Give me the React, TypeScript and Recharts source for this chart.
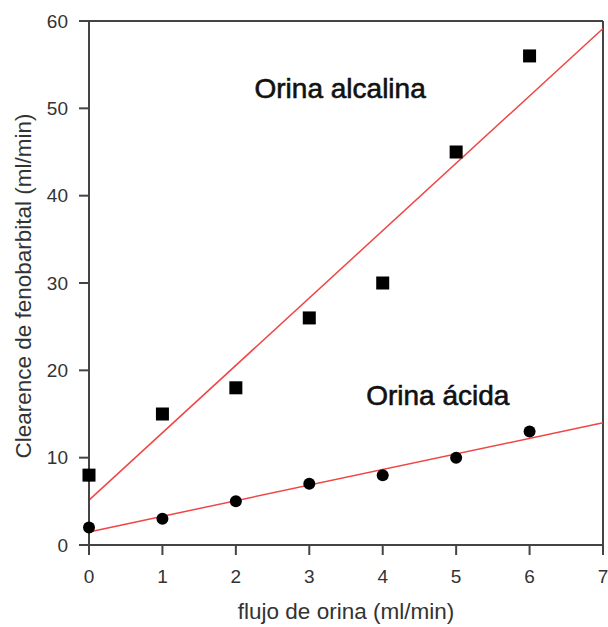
import {
  ComposedChart,
  Scatter,
  Line,
  XAxis,
  YAxis,
  ReferenceLine,
  ReferenceDot,
} from 'recharts';

const flujo = [0, 1, 2, 3, 4, 5, 6];
const alcalina = [8, 15, 18, 26, 30, 45, 56];
const acida = [2, 3, 5, 7, 8, 10, 13];
const xTicks = [0, 1, 2, 3, 4, 5, 6, 7];
const yTicks = [0, 10, 20, 30, 40, 50, 60];

// least squares fit, drawn from x=0 to x=7 like the original plot
function fit(xs: number[], ys: number[]) {
  const n = xs.length;
  const mx = xs.reduce((a, b) => a + b, 0) / n;
  const my = ys.reduce((a, b) => a + b, 0) / n;
  let sxy = 0;
  let sxx = 0;
  xs.forEach((x, i) => {
    sxy += (x - mx) * (ys[i] - my);
    sxx += (x - mx) * (x - mx);
  });
  const m = sxy / sxx;
  const b = my - m * mx;
  return [0, 7].map(x => ({ x, y: b + m * x }));
}

const alcData = flujo.map((x, i) => ({ x, y: alcalina[i] }));
const acData = flujo.map((x, i) => ({ x, y: acida[i] }));
const alcFit = fit(flujo, alcalina);
const acFit = fit(flujo, acida);

const textColor = '#333';
const axisColor = '#444';
const fitColor = '#f04545';
const font = '"Liberation Sans", Arial, sans-serif';
const TICK = 10;
const X_OFF = 25; // tick mark + gap below x axis
const Y_OFF = 21; // tick mark + gap left of y axis

const Square = (props: any) => (
  <rect x={props.cx - 6.5} y={props.cy - 6.5} width={13} height={13} fill="#000" />
);
const Dot = (props: any) => <circle cx={props.cx} cy={props.cy} r={6} fill="#000" />;

// tick mark + label drawn together (tickSize is 0 so text sits at axis + margin)
const XTick = (props: any) => {
  const { x, y, payload } = props;
  const y0 = y - X_OFF;
  return (
    <g>
      <line x1={x} x2={x} y1={y0} y2={y0 + TICK} stroke={axisColor} strokeWidth={2} />
      <text x={x} y={y} dy="0.71em" textAnchor="middle" fontSize={19} fill={textColor}>
        {payload.value}
      </text>
    </g>
  );
};

const YTick = (props: any) => {
  const { x, y, payload } = props;
  const x0 = x + Y_OFF;
  return (
    <g>
      <line x1={x0 - TICK} x2={x0} y1={y} y2={y} stroke={axisColor} strokeWidth={2} />
      <text x={x} y={y} dy="0.355em" textAnchor="end" fontSize={19} fill={textColor}>
        {payload.value}
      </text>
    </g>
  );
};

const YTitle = (props: any) => {
  const vb = props.viewBox;
  const cy = vb.y + vb.height / 2 + 3;
  return (
    <text
      x={23}
      y={cy}
      transform={`rotate(-90, 23, ${cy})`}
      textAnchor="middle"
      dominantBaseline="central"
      fontSize={22.5}
      fill={textColor}
      fontFamily={font}
    >
      Clearence de fenobarbital (ml/min)
    </text>
  );
};

const noteStyle = {
  position: 'center' as const,
  fontSize: 28,
  fill: '#111',
  stroke: '#111',
  strokeWidth: 0.6,
};

export default function App() {
  return (
    <div style={{ position: 'absolute', left: 0, top: 0, background: '#fff' }}>
      <ComposedChart
        width={608}
        height={627}
        margin={{ top: 21, right: 5, bottom: 0, left: 0 }}
        style={{ fontFamily: font }}
      >
        <XAxis
          dataKey="x"
          type="number"
          domain={[0, 7]}
          ticks={xTicks}
          height={82}
          stroke={axisColor}
          strokeWidth={2}
          tickLine={false}
          tickSize={0}
          tickMargin={X_OFF}
          tick={<XTick />}
          label={{
            value: 'flujo de orina (ml/min)',
            position: 'insideBottom',
            offset: 8,
            fill: textColor,
            fontSize: 22.5,
          }}
        />
        <YAxis
          dataKey="y"
          type="number"
          domain={[0, 60]}
          ticks={yTicks}
          width={89}
          stroke={axisColor}
          strokeWidth={2}
          tickLine={false}
          tickSize={0}
          tickMargin={Y_OFF}
          tick={<YTick />}
          label={<YTitle />}
        />
        <ReferenceLine y={60} stroke={axisColor} strokeWidth={2} />
        <ReferenceLine x={7} stroke={axisColor} strokeWidth={2} />
        <Line
          data={alcFit}
          dataKey="y"
          type="linear"
          stroke={fitColor}
          strokeWidth={1.5}
          dot={false}
          activeDot={false}
          isAnimationActive={false}
        />
        <Line
          data={acFit}
          dataKey="y"
          type="linear"
          stroke={fitColor}
          strokeWidth={1.5}
          dot={false}
          activeDot={false}
          isAnimationActive={false}
        />
        <Scatter data={alcData} dataKey="y" shape={<Square />} isAnimationActive={false} />
        <Scatter data={acData} dataKey="y" shape={<Dot />} isAnimationActive={false} />
        <ReferenceDot
          x={3.42}
          y={52.3}
          r={0}
          fill="none"
          stroke="none"
          label={{ value: 'Orina alcalina', ...noteStyle }}
        />
        <ReferenceDot
          x={4.75}
          y={17.2}
          r={0}
          fill="none"
          stroke="none"
          label={{ value: 'Orina ácida', ...noteStyle }}
        />
      </ComposedChart>
    </div>
  );
}
